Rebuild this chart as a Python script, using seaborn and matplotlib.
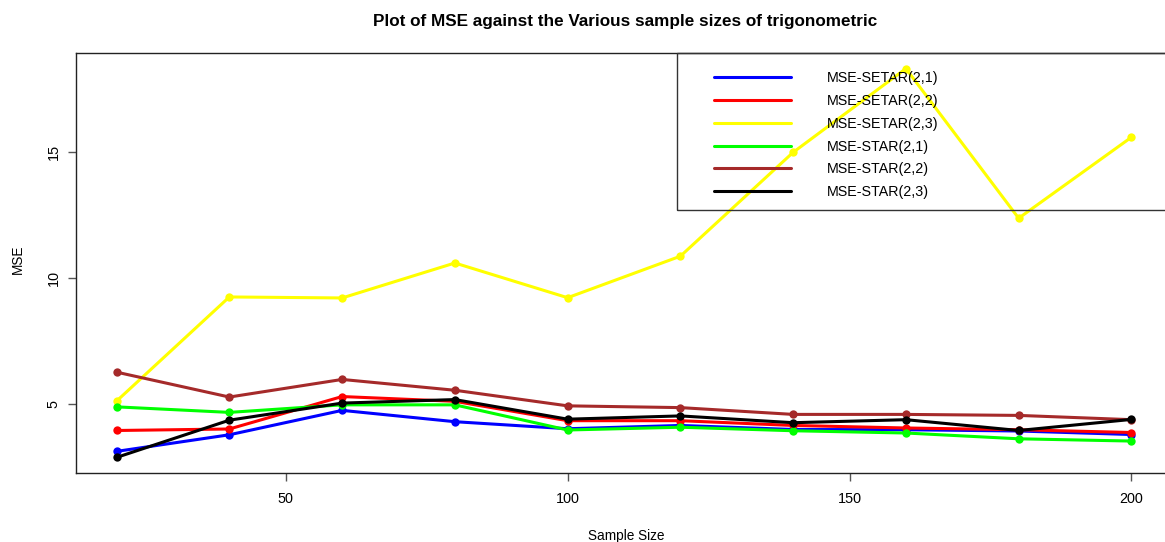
import numpy as np
import pandas as pd
import matplotlib
matplotlib.use("Agg")
import matplotlib.pyplot as plt
from matplotlib.lines import Line2D
from matplotlib.patches import Rectangle
import seaborn as sns

# Sample sizes and MSE per model
sample_size = [20, 40, 60, 80, 100, 120, 140, 160, 180, 200]
mse_setar_21 = [3.11, 3.77, 4.74, 4.29, 4.01, 4.14, 3.98, 3.97, 3.92, 3.78]
mse_setar_22 = [3.94, 4.00, 5.29, 5.10, 4.33, 4.33, 4.14, 4.04, 3.97, 3.86]
mse_setar_23 = [5.11, 9.25, 9.21, 10.60, 9.22, 10.87, 15.00, 18.33, 12.38, 15.60]
mse_star_21 = [4.88, 4.66, 4.96, 4.96, 3.96, 4.07, 3.93, 3.84, 3.61, 3.52]
mse_star_22 = [6.26, 5.27, 5.97, 5.54, 4.92, 4.85, 4.58, 4.58, 4.54, 4.37]
mse_star_23 = [2.87, 4.35, 5.03, 5.17, 4.39, 4.52, 4.25, 4.37, 3.94, 4.38]

labels = ["MSE-SETAR(2,1)", "MSE-SETAR(2,2)", "MSE-SETAR(2,3)",
          "MSE-STAR(2,1)", "MSE-STAR(2,2)", "MSE-STAR(2,3)"]
series = [mse_setar_21, mse_setar_22, mse_setar_23,
          mse_star_21, mse_star_22, mse_star_23]
colors = ["#0000FF", "#FF0000", "#FFFF00", "#00FF00", "#A52A2A", "#000000"]

df = pd.concat(
    [pd.DataFrame({"Sample Size": sample_size, "MSE": vals, "model": name})
     for name, vals in zip(labels, series)],
    ignore_index=True,
)

sns.set_style("white")
plt.rcParams["font.family"] = ["Liberation Sans", "DejaVu Sans"]
plt.rcParams["text.color"] = "black"
plt.rcParams["axes.labelcolor"] = "black"
plt.rcParams["xtick.color"] = "black"
plt.rcParams["ytick.color"] = "black"

W, H = 1165, 542
fig = plt.figure(figsize=(W / 100, H / 100), dpi=100)
left, right, top, bottom = 76, 1172, 53, 473
ax = fig.add_axes([left / W, (H - bottom) / H, (right - left) / W, (bottom - top) / H])

sns.lineplot(data=df, x="Sample Size", y="MSE", hue="model", hue_order=labels,
             palette=colors, marker="o", markersize=6, markeredgewidth=0,
             linewidth=2.2, legend=False, ax=ax)

ax.set_xlim(12.8, 207.2)
ax.set_ylim(2.25, 18.95)
ax.set_xticks([50, 100, 150, 200])
ax.set_yticks([5, 10, 15])
ax.tick_params(axis="both", direction="out", length=6, width=1, color="#555555",
               labelcolor="black", labelsize=10.4, bottom=True, left=True)
ax.tick_params(axis="x", pad=8)
ax.tick_params(axis="y", pad=5)
for lab in ax.get_yticklabels():
    lab.set_rotation(90)
    lab.set_va("center")
for s in ax.spines.values():
    s.set_color("#222222")
    s.set_linewidth(1.0)

ax.set_xlabel("")
ax.set_ylabel("")
fig.text(626 / W, 1 - 536 / H, "Sample Size", ha="center", va="center", fontsize=9.8)
fig.text(18 / W, 1 - 259 / H, "MSE", ha="center", va="center", rotation=90, fontsize=9.8)
fig.text(625 / W, 1 - 26 / H, "Plot of MSE against the Various sample sizes of trigonometric",
         ha="center", va="baseline", fontsize=12.3, fontweight="bold")

# Legend frame and entries
fig.patches.append(Rectangle((677 / W, (H - 210) / H), (1180 - 677) / W, (210 - 53) / H,
                             transform=fig.transFigure, fill=False,
                             edgecolor="#333333", linewidth=1.0, zorder=5))
handles = [Line2D([0], [0], color=c, linewidth=2.2) for c in colors]
ax.legend(handles, labels, loc="upper left",
          bbox_to_anchor=(714 / W, 1 - 71 / H), bbox_transform=fig.transFigure,
          frameon=False, borderpad=0, borderaxespad=0, fontsize=10.3,
          handlelength=5.4, handletextpad=2.5, labelspacing=0.62)

fig.savefig("out.png", dpi=100)
